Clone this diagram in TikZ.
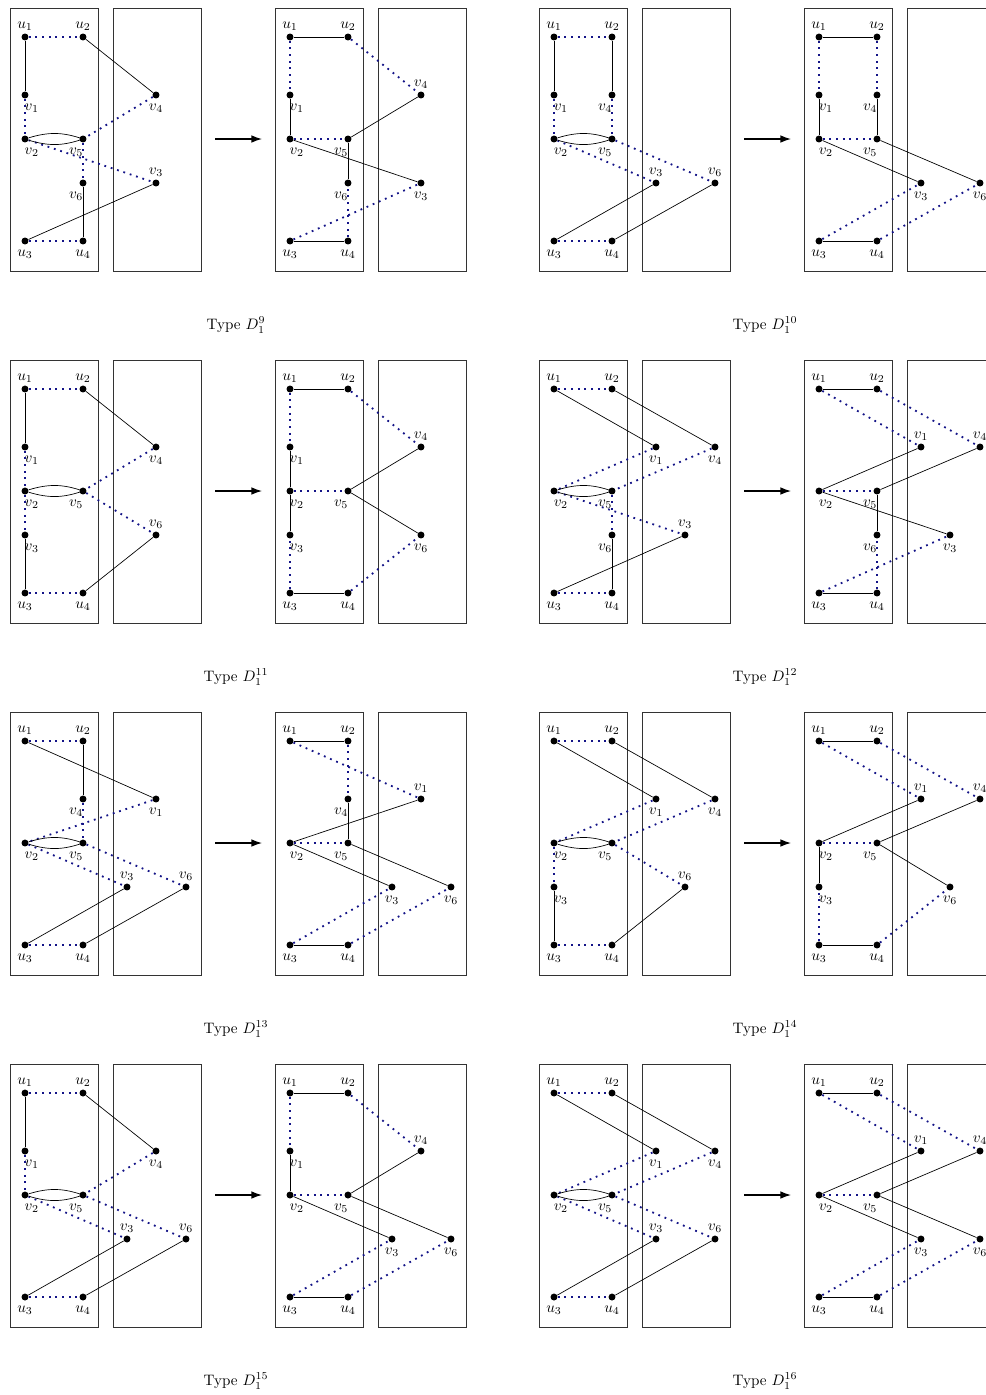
\documentclass[tikz,border=0pt]{standalone}
\usetikzlibrary{arrows.meta}
\definecolor{dotblue}{RGB}{20,20,135}

% one of the two graphs of a pair: boxes and the ten vertices
\newcommand{\graphbody}[4]{%
  \draw[panelbox] (10,8) rectangle (98,271);
  \draw[panelbox] (113,8) rectangle (201,271);
  \node[dot, la=u_1] (u1) at (25,37) {};
  \node[dot, la=u_2] (u2) at (83,37) {};
  \node[dot, lbr=v_2] (v2) at (25,139) {};
  \node[dot, lbl=v_5] (v5) at (83,139) {};
  \node[dot, lb=u_3] (u3) at (25,241) {};
  \node[dot, lb=u_4] (u4) at (83,241) {};
  \node[dot, #1=v_1] (v1) {};
  \node[dot, #2=v_4] (v4) {};
  \node[dot, #3=v_3] (v3) {};
  \node[dot, #4=v_6] (v6) {};
}
\newcommand{\beforeedges}{%
  \draw[dotline] (u1) -- (u2);
  \draw[dotline] (u3) -- (u4);
  \draw[fulledge] (u1) -- (v1);
  \draw[fulledge] (u2) -- (v4);
  \draw[fulledge] (u3) -- (v3);
  \draw[fulledge] (u4) -- (v6);
  \draw[dotline] (v1) -- (v2);
  \draw[dotline] (v4) -- (v5);
  \draw[dotline] (v2) -- (v3);
  \draw[dotline] (v5) -- (v6);
  \draw[fulledge] (v2) to[bend left=18] (v5);
  \draw[fulledge] (v2) to[bend right=18] (v5);
}
\newcommand{\afteredges}{%
  \draw[fulledge] (u1) -- (u2);
  \draw[fulledge] (u3) -- (u4);
  \draw[dotline] (u1) -- (v1);
  \draw[dotline] (u2) -- (v4);
  \draw[dotline] (u3) -- (v3);
  \draw[dotline] (u4) -- (v6);
  \draw[fulledge] (v1) -- (v2);
  \draw[fulledge] (v4) -- (v5);
  \draw[fulledge] (v2) -- (v3);
  \draw[fulledge] (v5) -- (v6);
  \draw[dotline] (v2) -- (v5);
}
% #1,#2 shift, #3 type number, #4-#7 places of v1, v4, v3, v6
\newcommand{\typepair}[7]{%
\begin{scope}[shift={(#1,#2)}]
  \begin{scope}[name prefix=b#3-, tp/.style={lb=##1}, bt/.style={la=##1}]
    \graphbody{#4}{#5}{#6}{#7}
    \beforeedges
  \end{scope}
  \coordinate (t#3a) at (215,139);
  \coordinate (t#3b) at (262,139);
  \draw[arr] (t#3a) -- (t#3b);
  \begin{scope}[shift={(265,0)}, name prefix=a#3-, tp/.style={la=##1}, bt/.style={lb=##1}]
    \graphbody{#4}{#5}{#6}{#7}
    \afteredges
  \end{scope}
  \node (cap#3) at (236,325) {Type $D_1^{#3}$};
\end{scope}}

\begin{document}
\begin{tikzpicture}[x=0.66pt, y=-0.66pt,
  dot/.style={circle, fill, inner sep=0pt, minimum size=4.6pt},
  lab/.style={inner sep=1pt},
  la/.style={label={[lab, yshift=0.3pt]above:$#1$}},
  lb/.style={label={[lab, yshift=-2pt]below:$#1$}},
  lbr/.style={label={[lab, yshift=-2pt, xshift=4.5pt]below:$#1$}},
  lbl/.style={label={[lab, yshift=-2pt, xshift=-4.5pt]below:$#1$}},
  Lhi/.style={at={(25,95)}, lbr=#1},
  Mhi/.style={at={(83,95)}, lbl=#1},
  Llo/.style={at={(25,183)}, lbr=#1},
  Mlo/.style={at={(83,183)}, lbl=#1},
  Ahi/.style={at={(127,95)}, tp=#1},
  Bhi/.style={at={(156,95)}, tp=#1},
  Chi/.style={at={(186,95)}, tp=#1},
  Alo/.style={at={(127,183)}, bt=#1},
  Blo/.style={at={(156,183)}, bt=#1},
  Clo/.style={at={(186,183)}, bt=#1},
  panelbox/.style={draw=black!80, line width=0.6pt},
  fulledge/.style={black, line width=0.45pt},
  dotline/.style={dotblue, line width=1.2pt, dash pattern=on 1.2pt off 3.2pt},
  arr/.style={-{Latex[length=7pt, width=5pt]}, line width=0.8pt}]
\useasboundingbox (0,0) rectangle (986,1395);
\clip (0,0) rectangle (986,1395);

\typepair{0}{0}{9}{Lhi}{Bhi}{Blo}{Mlo}
\typepair{529}{0}{10}{Lhi}{Mhi}{Alo}{Clo}
\typepair{0}{352}{11}{Lhi}{Bhi}{Llo}{Blo}
\typepair{529}{352}{12}{Ahi}{Chi}{Blo}{Mlo}
\typepair{0}{704}{13}{Bhi}{Mhi}{Alo}{Clo}
\typepair{529}{704}{14}{Ahi}{Chi}{Llo}{Blo}
\typepair{0}{1056}{15}{Lhi}{Bhi}{Alo}{Clo}
\typepair{529}{1056}{16}{Ahi}{Chi}{Alo}{Clo}
\end{tikzpicture}
\end{document}
